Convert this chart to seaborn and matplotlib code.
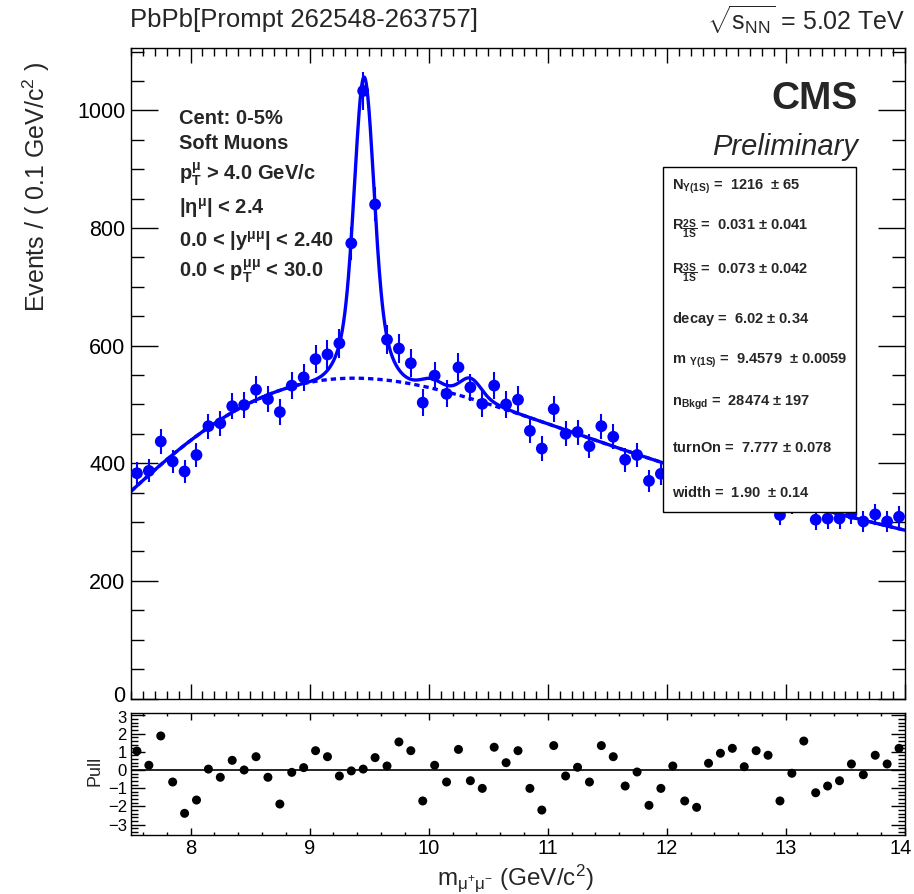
import math
import numpy as np
import pandas as pd
import matplotlib
matplotlib.use("Agg")
import matplotlib.pyplot as plt
import seaborn as sns
from matplotlib.ticker import MultipleLocator
from matplotlib.patches import Rectangle
from matplotlib.transforms import ScaledTranslation

# ---------------- data ----------------
MASS_LO, MASS_HI, BIN_WIDTH = 7.5, 14.0, 0.1
events = [383, 387, 437, 403, 386, 414, 463, 468, 497, 499,
          525, 509, 487, 532, 546, 577, 585, 604, 774, 1033,
          840, 610, 595, 570, 503, 549, 518, 563, 529, 501,
          532, 500, 508, 455, 425, 492, 450, 453, 429, 463,
          445, 406, 414, 370, 382, 400, 356, 343, 384, 388,
          387, 362, 373, 362, 312, 332, 359, 304, 306, 306,
          314, 301, 313, 301, 309]
pulls = [1.04, 0.26, 1.87, -0.66, -2.38, -1.65, 0.05, -0.40, 0.53, 0.00,
         0.73, -0.40, -1.87, -0.13, 0.13, 1.06, 0.73, -0.33, -0.05, 0.05,
         0.68, 0.22, 1.54, 1.06, -1.70, 0.26, -0.66, 1.13, -0.59, -1.01,
         1.25, 0.40, 1.06, -1.01, -2.20, 1.34, -0.33, 0.15, -0.66, 1.34,
         0.73, -0.88, -0.11, -1.94, -1.01, 0.22, -1.70, -2.05, 0.37, 0.92,
         1.19, 0.18, 1.06, 0.81, -1.70, -0.18, 1.59, -1.25, -0.88, -0.59,
         0.33, -0.26, 0.81, 0.33, 1.19]
n_bins = len(events)
mass = [round(MASS_LO + BIN_WIDTH * (i + 0.5), 2) for i in range(n_bins)]

# fit results shown in the chart
N_1S, R_2S, R_3S = 1216.0, 0.031, 0.073
DECAY, M_1S, N_BKG, TURN_ON, WIDTH = 6.02, 9.4579, 28474.0, 7.777, 1.90
# estimated signal resolution (not shown in the chart)
SIGMA1, SIGMA2, FRAC1 = 0.076, 0.15, 0.60
PDG_1S, PDG_2S, PDG_3S = 9.4603, 10.0233, 10.3552

param_lines = [
    r"N$_{\Upsilon(1S)}$ =  1216  $\pm$ 65",
    r"R$_{\dfrac{2S}{1S}}$ =  0.031 $\pm$ 0.041",
    r"R$_{\dfrac{3S}{1S}}$ =  0.073 $\pm$ 0.042",
    r"decay =  6.02 $\pm$ 0.34",
    r"m $_{\Upsilon(1S)}$ =  9.4579  $\pm$ 0.0059",
    r"n$_{Bkgd}$ =  28474 $\pm$ 197",
    r"turnOn =  7.777 $\pm$ 0.078",
    r"width =  1.90  $\pm$ 0.14",
]
cut_lines = [
    "Cent: 0-5%",
    "Soft Muons",
    r"p$_{T}^{\mu}$ > 4.0 GeV/c",
    r"|$\eta^{\mu}$| < 2.4",
    r"0.0 < |y$^{\mu\mu}$| < 2.40",
    r"0.0 < p$_{T}^{\mu\mu}$ < 30.0",
]
x_ticks = [8, 9, 10, 11, 12, 13, 14]
pull_ticks = [-3, -2, -1, 0, 1, 2, 3]

# ---------------- style ----------------
sns.set_theme(style="ticks")
plt.rcParams['font.family'] = ['Liberation Sans', 'DejaVu Sans']
plt.rcParams['mathtext.fontset'] = 'custom'
plt.rcParams['mathtext.rm'] = 'Liberation Sans'
plt.rcParams['mathtext.it'] = 'Liberation Sans'
plt.rcParams['mathtext.bf'] = 'Liberation Sans:bold'
plt.rcParams['mathtext.default'] = 'regular'
plt.rcParams['axes.linewidth'] = 1.0
BLUE = '#0000ff'

# ---------------- model curve ----------------
erf_v = np.vectorize(math.erf)
xf = np.linspace(MASS_LO, MASS_HI, 1301)


def bkg_shape(x):
    return np.exp(-x / DECAY) * (1.0 + erf_v((x - TURN_ON) / WIDTH))


norm_bkg = N_BKG * BIN_WIDTH / np.trapezoid(bkg_shape(xf), xf)
bkg = norm_bkg * bkg_shape(xf)


def gauss(x, m, s):
    return np.exp(-0.5 * ((x - m) / s) ** 2) / (math.sqrt(2 * math.pi) * s)


def signal(x, n, m, scale):
    return n * BIN_WIDTH * (FRAC1 * gauss(x, m, SIGMA1 * scale) +
                            (1 - FRAC1) * gauss(x, m, SIGMA2 * scale))


m2 = M_1S * PDG_2S / PDG_1S
m3 = M_1S * PDG_3S / PDG_1S
total = (bkg + signal(xf, N_1S, M_1S, 1.0)
         + signal(xf, N_1S * R_2S, m2, m2 / M_1S)
         + signal(xf, N_1S * R_3S, m3, m3 / M_1S))

df = pd.DataFrame({"mass": mass, "events": events, "pull": pulls})
df["err"] = np.sqrt(df["events"])
curve = pd.DataFrame({"x": xf, "total": total, "bkg": bkg})

# ---------------- figure ----------------
fig = plt.figure(figsize=(9.14, 8.94), dpi=100)
L, W = 131 / 914, 774 / 914
ax = fig.add_axes([L, 1 - 698.5 / 894, W, (698.5 - 48) / 894])
axp = fig.add_axes([L, 1 - 835 / 894, W, (835 - 713) / 894])

# main panel
sns.lineplot(data=curve, x="x", y="bkg", ax=ax, color=BLUE, lw=2.4,
             linestyle=(0, (1.6, 1.2)), sort=False, estimator=None, zorder=2)
sns.lineplot(data=curve, x="x", y="total", ax=ax, color=BLUE, lw=2.4,
             sort=False, estimator=None, zorder=2)
ax.errorbar(df["mass"], df["events"], yerr=df["err"], fmt='none',
            ecolor=BLUE, elinewidth=1.5, capsize=0, zorder=3)
sns.scatterplot(data=df, x="mass", y="events", ax=ax, color=BLUE, s=72,
                edgecolor='none', zorder=4)

ax.set_xlim(MASS_LO, MASS_HI)
ax.set_ylim(0, 1106)
ax.set_xlabel("")
ax.set_ylabel("")
ax.xaxis.set_major_locator(MultipleLocator(1))
ax.xaxis.set_minor_locator(MultipleLocator(0.1))
ax.set_yticks([0, 200, 400, 600, 800, 1000])
ax.yaxis.set_minor_locator(MultipleLocator(50))
ax.tick_params(axis='both', which='both', direction='in', top=True, right=True,
               width=1.0, colors='black')
ax.tick_params(axis='y', which='major', length=19.5, labelsize=15.5, pad=4)
ax.tick_params(axis='y', which='minor', length=9.5)
ax.tick_params(axis='x', which='major', length=11, labelbottom=False)
ax.tick_params(axis='x', which='minor', length=5.5)
for s in ax.spines.values():
    s.set_visible(True)
    s.set_color('black')

# pull panel
axp.axhline(0, color='black', lw=1.2, zorder=1)
sns.scatterplot(data=df, x="mass", y="pull", ax=axp, color='black', s=42,
                edgecolor='none', zorder=3)
axp.set_xlim(MASS_LO, MASS_HI)
axp.set_ylim(-3.57, 3.13)
axp.set_xlabel("")
axp.set_ylabel("")
axp.set_xticks(x_ticks)
axp.set_xticklabels([str(v) for v in x_ticks])
axp.xaxis.set_minor_locator(MultipleLocator(0.2))
axp.set_yticks(pull_ticks)
axp.set_yticklabels([str(v).replace("-", "\u2212") for v in pull_ticks])
axp.yaxis.set_minor_locator(MultipleLocator(0.2))
axp.tick_params(axis='both', which='both', direction='in', top=True, right=True,
                width=1.0, colors='black')
axp.tick_params(axis='y', which='major', length=10, labelsize=12, pad=3)
axp.tick_params(axis='y', which='minor', length=5)
axp.tick_params(axis='x', which='major', length=5, labelsize=14.5, pad=3)
axp.tick_params(axis='x', which='minor', length=2.5)
for s in axp.spines.values():
    s.set_visible(True)
    s.set_color('black')

# texts
fig.text(130 / 914, 1 - 20 / 894, "PbPb[Prompt 262548-263757]", fontsize=18.5,
         ha='left', va='center')
fig.text(905 / 914, 1 - 20 / 894, r"$\sqrt{s_{NN}}$ = 5.02 TeV", fontsize=18,
         ha='right', va='center')
fig.text(36 / 914, 1 - 62 / 894, r"Events / ( 0.1 GeV/c$^{2}$ )", fontsize=18,
         rotation=90, ha='center', va='top')
fig.text(95 / 914, 1 - 771 / 894, "Pull", fontsize=13, rotation=90,
         ha='center', va='center')
fig.text(515 / 914, 1 - 878 / 894, r"m$_{\mu^{+}\mu^{-}}$ (GeV/c$^{2}$)",
         fontsize=17.5, ha='center', va='center')

fig.text(858 / 914, 1 - 109 / 894, "CMS", fontsize=28, fontweight='bold',
         ha='right', va='baseline')
fig.text(858 / 914, 1 - 155 / 894, "Preliminary", fontsize=21, style='italic',
         ha='right', va='baseline')

cut_base = [124, 148.7, 180, 213.7, 247, 277.7]
for txt, yb in zip(cut_lines, cut_base):
    fig.text(179 / 914, 1 - yb / 894, txt, fontsize=14.5, fontweight='bold',
             ha='left', va='baseline')

box = Rectangle((663 / 914, 1 - 512 / 894), (856 - 663) / 914, (512 - 167) / 894,
                transform=fig.transFigure, facecolor='white', edgecolor='black',
                lw=1.0, zorder=10)
fig.add_artist(box)
par_base = [190, 230, 273.5, 322.5, 363.5, 406, 452.5, 497]
for txt, yb in zip(param_lines, par_base):
    t = fig.text(672 / 914, 1 - yb / 894, txt, fontsize=10.5, fontweight='bold',
                 ha='left', va='baseline')
    t.set_zorder(11)


def nudge(label, dx_px, dy_px):
    label.set_transform(label.get_transform() +
                        ScaledTranslation(dx_px / 100, dy_px / 100,
                                          fig.dpi_scale_trans))


fig.canvas.draw()
# keep "14" inside the canvas and keep the "0" / "3" labels apart, as in the reference
nudge(axp.xaxis.get_major_ticks()[-1].label1, -4, 0)
nudge(ax.yaxis.get_major_ticks()[0].label1, 0, 4)
nudge(axp.yaxis.get_major_ticks()[-1].label1, 0, -2)

fig.savefig("out.png", dpi=100)
